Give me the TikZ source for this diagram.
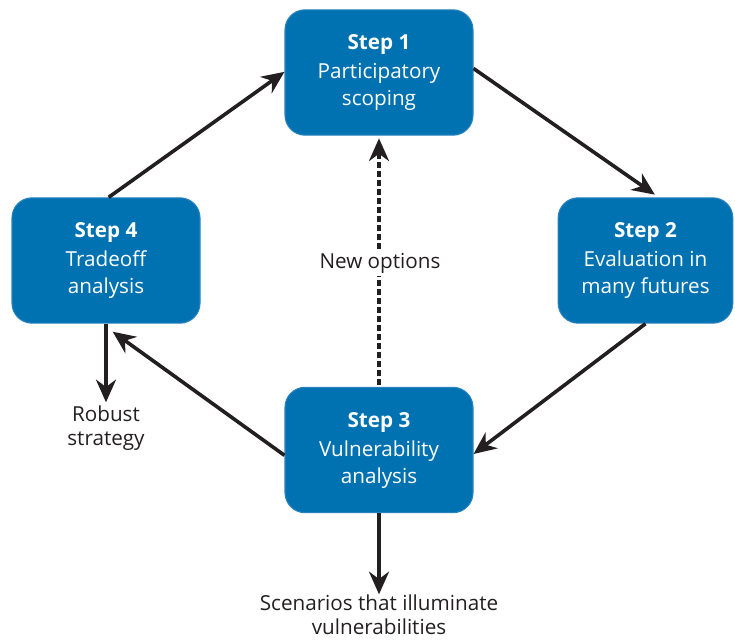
\documentclass[tikz,border=0pt]{standalone}
\usepackage{fontspec}
\setmainfont{Open Sans}
\usetikzlibrary{positioning, arrows.meta}
\definecolor{stepblue}{RGB}{0,114,177}
\definecolor{stepedge}{RGB}{40,130,190}
\definecolor{inkgray}{RGB}{35,31,32}
\tikzset{
    stepbox/.style={draw=stepedge, line width=0.8pt, fill=stepblue, text=white,
        rounded corners=15pt, minimum width=141pt, minimum height=94pt,
        align=center, inner sep=0pt,
        font=\fontsize{15.5}{20}\selectfont},
    flow/.style={line width=2.7pt, draw=inkgray,
        -{Stealth[length=17pt, width=15pt, inset=5.5pt]}},
    note/.style={text=inkgray, align=center,
        font=\fontsize{15.5}{18}\selectfont}
}
\begin{document}
\begin{tikzpicture}[x=0.75pt, y=-0.75pt]
\useasboundingbox (0,0) rectangle (735,639);
% the four steps
\node[stepbox] (s1) at (379,72.5) {\textbf{Step 1}\\[2pt]Participatory\\scoping};
\node[stepbox, minimum width=131pt] (s2) at (645.5,260.5) {\textbf{Step 2}\\[2pt]Evaluation in\\many futures};
\node[stepbox] (s3) at (379,450) {\textbf{Step 3}\\[2pt]Vulnerability\\analysis};
\node[stepbox] (s4) at (106,260.5) {\textbf{Step 4}\\[2pt]Tradeoff\\analysis};
% outputs
\node[note] (robust) at (106,428) {Robust\\strategy};
\node[note] (scen) at (379,615) {Scenarios that illuminate\\vulnerabilities};
% cycle
\draw[flow] ([xshift=2pt]s4.north) -- ([yshift=0.5pt]s1.west);
\draw[flow] ([yshift=3pt]s1.east) -- ([xshift=7pt,yshift=2pt]s2.north);
\draw[flow] (s2.south) -- ([yshift=-3pt]s3.east);
\draw[flow] ([yshift=-4pt]s3.west) -- ([xshift=5pt,yshift=-6pt]s4.south);
\draw[flow, dash pattern=on 4.5pt off 2.3pt] ([yshift=1pt]s3.north) -- ([yshift=-2pt]s1.south);
\draw[flow] (s4.south) -- ([yshift=-1pt]robust.north);
\draw[flow] (s3.south) -- ([yshift=-3pt]scen.north);
% label over the dashed line
\node[note, fill=white, inner sep=2pt] (newopt) at (380,263) {New options};
\end{tikzpicture}
\end{document}
